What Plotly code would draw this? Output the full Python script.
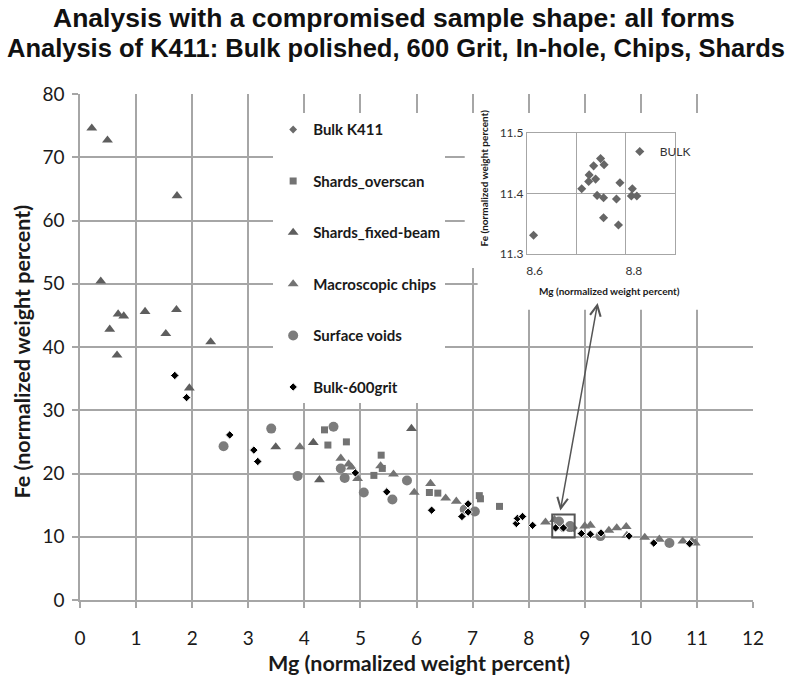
import plotly.graph_objects as go

# ---------------- data ----------------
# Bulk K411 (also shown in the inset)
bulk_k411_mg = [8.598, 8.695, 8.709, 8.710, 8.719, 8.723, 8.733, 8.740, 8.726,
                8.739, 8.739, 8.765, 8.772, 8.769, 8.797, 8.795, 8.806]
bulk_k411_fe = [11.331, 11.408, 11.420, 11.431, 11.446, 11.424, 11.458, 11.448, 11.397,
                11.393, 11.360, 11.391, 11.418, 11.348, 11.408, 11.396, 11.396]

shards_overscan_mg = [4.36, 4.42, 4.75, 5.24, 5.37, 5.39, 6.23, 6.38, 7.12, 7.14, 7.48]
shards_overscan_fe = [26.9, 24.5, 25.0, 19.7, 22.9, 20.8, 17.0, 16.9, 16.5, 16.0, 14.8]

shards_fixed_mg = [0.21, 0.49, 1.73, 0.37, 0.68, 0.78, 1.16, 1.72, 0.53, 1.53, 2.33, 0.66,
                   1.95, 3.49, 4.16, 4.27, 5.91]
shards_fixed_fe = [74.6, 72.7, 63.9, 50.4, 45.2, 44.9, 45.6, 45.9, 42.8, 42.1, 40.8, 38.7,
                   33.5, 24.2, 24.9, 19.0, 27.1]

chips_mg = [3.92, 4.65, 4.79, 4.84, 4.95, 5.36, 5.59, 5.96, 6.25, 6.52, 6.71, 8.30,
            8.46, 9.00, 9.10, 9.43, 9.57, 9.74, 9.75, 10.07, 10.33, 10.75, 10.91, 10.97]
chips_fe = [24.2, 22.4, 21.5, 21.0, 19.2, 21.2, 19.9, 17.0, 18.4, 16.1, 15.6, 12.3,
            12.7, 11.7, 11.8, 11.0, 11.4, 11.6, 10.2, 9.9, 9.6, 9.3, 9.3, 9.0]

voids_mg = [2.56, 3.41, 3.88, 4.52, 4.65, 4.72, 5.06, 5.57, 5.83, 6.86, 7.04, 8.54,
            8.74, 9.28, 10.51]
voids_fe = [24.3, 27.1, 19.6, 27.4, 20.8, 19.3, 17.0, 15.9, 18.9, 14.3, 14.0, 12.4,
            11.7, 10.1, 9.0]

grit600_mg = [1.69, 1.90, 2.67, 3.10, 3.17, 4.91, 5.47, 6.27, 6.81, 6.92, 6.92, 7.78,
              7.80, 7.89, 8.07, 8.48, 8.62, 8.94, 9.10, 9.29, 9.79, 10.23, 10.87]
grit600_fe = [35.5, 32.0, 26.1, 23.7, 21.9, 20.1, 17.1, 14.2, 13.2, 13.9, 15.2, 12.1,
              12.9, 13.2, 11.8, 11.4, 11.4, 10.5, 10.4, 10.6, 10.1, 9.0, 8.9]

x_ticks = list(range(0, 13))
y_ticks = list(range(0, 81, 10))
inset_x_ticks = [8.6, 8.8]
inset_y_ticks = [11.3, 11.4, 11.5]

# ---------------- figure ----------------
GRID = "#a6a6a6"
TXT = "#1a1a1a"
fig = go.Figure()

def add(name, xs, ys, symbol, size, color, lw=0, lc="white"):
    fig.add_trace(go.Scatter(
        x=xs, y=ys, mode="markers", name=name, legendgroup=name,
        marker=dict(symbol=symbol, size=size, color=color,
                    line=dict(width=lw, color=lc))))

add("Bulk K411", bulk_k411_mg, bulk_k411_fe, "diamond", 6, "#6b6b6b")
add("Shards_overscan", shards_overscan_mg, shards_overscan_fe, "square", 7, "#737373")
add("Shards_fixed-beam", shards_fixed_mg, shards_fixed_fe, "triangle-up", 9.5, "#5e5e5e")
add("Macroscopic chips", chips_mg, chips_fe, "triangle-up", 9.5, "#737373")
add("Surface voids", voids_mg, voids_fe, "circle", 10, "#7c7c7c")
add("Bulk-600grit", grit600_mg, grit600_fe, "diamond", 6.5, "#000000", 1, "white")

# inset trace
fig.add_trace(go.Scatter(
    x=bulk_k411_mg, y=bulk_k411_fe, mode="markers", name="BULK",
    xaxis="x2", yaxis="y2", legend="legend2",
    marker=dict(symbol="diamond", size=7, color="#666666")))

# white area behind the inset (hides main grid lines)
fig.add_shape(type="rect", xref="x", yref="y", x0=6.86, x1=12, y0=52.5, y1=77.0,
              fillcolor="white", line=dict(width=0), layer="between")
fig.add_shape(type="rect", xref="x", yref="y", x0=7.09, x1=12, y0=45.9, y1=52.6,
              fillcolor="white", line=dict(width=0), layer="between")

# box marking the zoomed region
fig.add_shape(type="rect", xref="x", yref="y", x0=8.42, x1=8.82, y0=9.9, y1=13.5,
              line=dict(color="#555555", width=2), layer="above")

# double-headed arrow
fig.add_annotation(x=9.23, y=46.95, ax=8.56, ay=13.9, xref="x", yref="y",
                   axref="x", ayref="y", text="", showarrow=True,
                   arrowhead=5, startarrowhead=5, arrowside="end+start",
                   arrowwidth=1.5, arrowsize=1.4, startarrowsize=1.4,
                   arrowcolor="#555555", standoff=0, startstandoff=0)

def label(text, x, y, size, family="Lato", angle=0, weight="bold", color=TXT):
    fig.add_annotation(text=text, textangle=angle, xref="paper", yref="paper",
                       x=x, y=y, xanchor="center", yanchor="middle", showarrow=False,
                       font=dict(family=family, size=size, color=color, weight=weight))

# titles
label("Analysis with a compromised sample shape: all forms", 0.466, 1.150, 26.5,
      family="Liberation Sans", color="#111")
label("Analysis of K411: Bulk polished, 600 Grit, In-hole, Chips, Shards", 0.469, 1.0908,
      25.5, family="Liberation Sans", color="#111")
# axis titles
label("Fe (normalized weight percent)", -0.0866, 0.4906, 21.5, angle=-90)
label("Mg (normalized weight percent)", 0.503, -0.1254, 21.5)
# inset axis titles
label("Fe (normalized weight percent)", 0.601, 0.834, 10, angle=-90)
label("Mg (normalized weight percent)", 0.7866, 0.6097, 10)

axis_common = dict(showgrid=True, gridcolor=GRID, gridwidth=1.5, showline=True,
                   linecolor=GRID, linewidth=1.5, ticks="outside", ticklen=6,
                   tickcolor=GRID, tickwidth=1.5, zeroline=False,
                   tickfont=dict(family="Lato", size=19, color=TXT))

fig.update_layout(
    width=786, height=685,
    margin=dict(l=80, r=33, t=94, b=85),
    paper_bgcolor="white", plot_bgcolor="white",
    xaxis=dict(range=[0, 12], tickvals=x_ticks, ticklabelstandoff=14, **axis_common),
    yaxis=dict(range=[0, 80], tickvals=y_ticks, ticklabelstandoff=4, **axis_common),
    xaxis2=dict(domain=[0.664, 0.8834], anchor="y2", range=[8.5845, 8.882],
                tickvals=inset_x_ticks, showgrid=False,
                minor=dict(tickvals=[8.684, 8.783], showgrid=True, gridcolor=GRID,
                           gridwidth=1.2, ticks=""),
                showline=True, mirror=True, linecolor=GRID, linewidth=1.2,
                ticks="", zeroline=False, ticklabelstandoff=6,
                tickfont=dict(family="Lato", size=12, color="#333")),
    yaxis2=dict(domain=[0.684, 0.9224], anchor="x2", range=[11.3, 11.5],
                tickvals=inset_y_ticks, showgrid=True, gridcolor=GRID, gridwidth=1.2,
                showline=True, mirror=True, linecolor=GRID, linewidth=1.2,
                ticks="", zeroline=False, ticklabelstandoff=0,
                tickfont=dict(family="Lato", size=12, color="#333")),
    showlegend=True,
    legend=dict(x=0.287, y=0.962, xanchor="left", yanchor="top", bgcolor="white",
                tracegroupgap=29, itemclick=False, entrywidth=150,
                font=dict(family="Lato", size=15, color=TXT, weight="bold")),
    legend2=dict(x=0.802, y=0.915, xanchor="left", yanchor="top",
                 bgcolor="rgba(0,0,0,0)",
                 font=dict(family="Lato", size=12, color="#333")),
)

fig.write_html("out.html", config={"displayModeBar": False},
               post_script="document.body.style.margin='0';")
